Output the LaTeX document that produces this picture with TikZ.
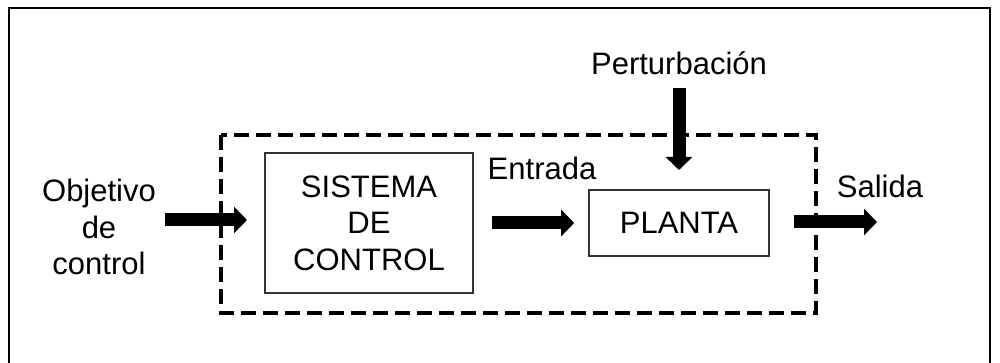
\documentclass[tikz,border=0pt]{standalone}
\usepackage{fontspec}
\setmainfont{Liberation Sans}
\usetikzlibrary{arrows.meta}
\begin{document}
\begin{tikzpicture}[x=0.5pt,y=-0.5pt,
  txt/.style={font=\fontsize{15.5}{18.25}\selectfont, align=center, inner sep=0pt},
  blk/.style={draw=black!80, line width=0.8pt, inner sep=0pt, font=\fontsize{15.5}{18.25}\selectfont, align=center},
  fat/.style={line width=6.5pt, -{Triangle[width=13pt,length=6.5pt]}},
  dashbox/.style={line width=2pt, dash pattern=on 7.5pt off 3.5pt}]
\useasboundingbox (0,0) rectangle (1000,363);
% outer frame (bottom edge lies outside the picture)
\draw[line width=1pt] (9,380) -- (9,8) -- (990,8) -- (990,380);
% dashed system boundary
\draw[dashbox] (221,135) rectangle (816,313);
% blocks
\node[blk, minimum width=104pt, minimum height=70pt] (sc) at (369,223) {SISTEMA\\DE\\CONTROL};
\node[blk, minimum width=90pt, minimum height=33pt] (pl) at (679,223) {PLANTA};
% labels
\node[txt] (obj) at (99,227) {Objetivo\\de\\control};
\node[txt] (pert) at (679,63) {Perturbación};
\node[txt] (ent) at (542,168) {Entrada};
\node[txt] (sal) at (880,186) {Salida};
% arrow end points
\coordinate (inS) at (165,220);
\coordinate (inE) at (247,220);
\coordinate (pS) at (679,88);
\coordinate (pE) at (679,170);
\coordinate (oS) at (794,222);
\coordinate (oE) at (877,222);
% arrows
\draw[fat] (inS) -- (inE);
\draw[fat, shorten <=9pt, shorten >=7pt] (sc.east) -- (pl.west);
\draw[fat] (pS) -- (pE);
\draw[fat] (oS) -- (oE);
\end{tikzpicture}
\end{document}
